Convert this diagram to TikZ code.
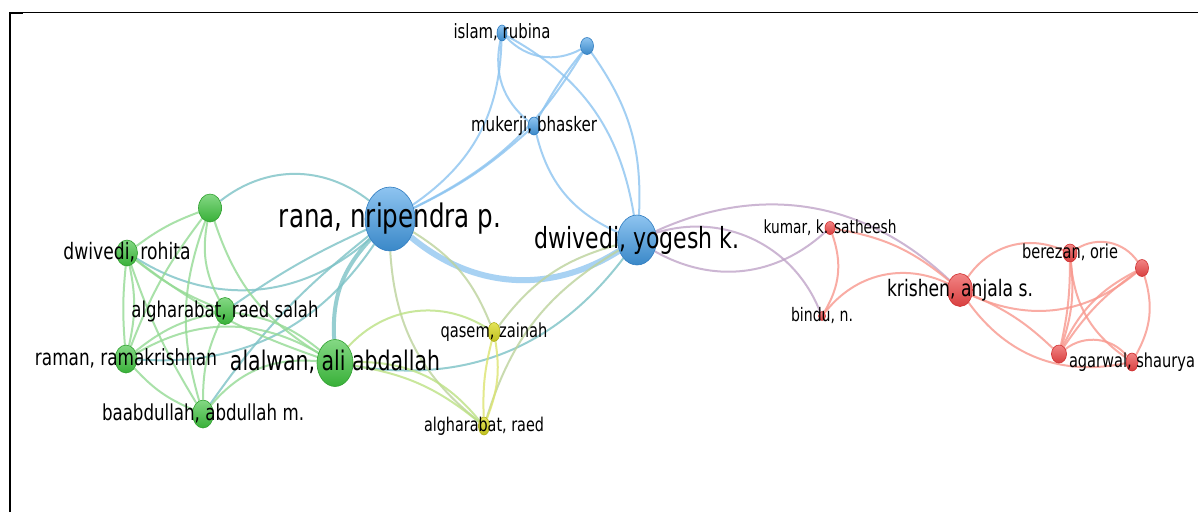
\documentclass[tikz,border=0pt]{standalone}
\usepackage{fontspec}
\setmainfont{DejaVu Sans}
\usetikzlibrary{shapes.geometric}
\definecolor{bT}{HTML}{8EC4F0}\definecolor{bB}{HTML}{3A88C8}\definecolor{bD}{HTML}{2F7CC0}
\definecolor{gT}{HTML}{84D884}\definecolor{gB}{HTML}{38B038}\definecolor{gD}{HTML}{2FA02F}
\definecolor{rT}{HTML}{F28484}\definecolor{rB}{HTML}{D84040}\definecolor{rD}{HTML}{D03030}
\definecolor{yT}{HTML}{E4E458}\definecolor{yB}{HTML}{C0C020}\definecolor{yD}{HTML}{B0B018}
\definecolor{ebl}{HTML}{8CC4F0}\definecolor{egr}{HTML}{94DA94}\definecolor{ere}{HTML}{F8988E}
\definecolor{eye}{HTML}{DCE470}\definecolor{ete}{HTML}{7CC2C6}\definecolor{epu}{HTML}{C0A4C8}
\definecolor{eby}{HTML}{BCD29C}\definecolor{egy}{HTML}{BCE284}
\newcommand\lbl[2]{\scalebox{1}[1.32]{\resizebox{#1pt}{!}{\vphantom{dp}#2}}}
\pgfdeclarelayer{bglayer}\pgfdeclarelayer{edgelayer}
\pgfsetlayers{bglayer,edgelayer,main}
\tikzset{
  vn/.style={ellipse, inner sep=0pt, line width=0.6pt},
  bn/.style={vn, draw=bD, top color=bT, bottom color=bB},
  gn/.style={vn, draw=gD, top color=gT, bottom color=gB},
  rn/.style={vn, draw=rD, top color=rT, bottom color=rB},
  yn/.style={vn, draw=yD, top color=yT, bottom color=yB},
  sz/.style 2 args={minimum width=#1pt, minimum height=#2pt},
  ed/.style={line width=2pt, opacity=0.8},
  eb/.style={ed, draw=ebl}, eg/.style={ed, draw=egr}, er/.style={ed, draw=ere},
  ey/.style={ed, draw=eye}, et/.style={ed, draw=ete}, ep/.style={ed, draw=epu},
  eby/.style={ed, draw=eby}, egy/.style={ed, draw=egy},
  lab/.style={inner sep=0pt, text=black}
}
\begin{document}
\begin{tikzpicture}[x=1pt,y=1pt]
\useasboundingbox (0,0) rectangle (1198,-512);
\begin{pgfonlayer}{bglayer}
\fill[white] (0,0) rectangle (1198,-512);
\end{pgfonlayer}
% frame
\draw[line width=1.2pt] (10,-12.3) -- (1198,-12.3);
\draw[line width=2pt] (10,-512) -- (10,-12);
\draw[line width=2pt] (10,-12.8) -- (23,-12.8);
% nodes
\node[bn, sz={50}{64}] (rana) at (390,-219) {};
\node[bn, sz={39}{50}] (yogesh) at (637,-240) {};
\node[bn, sz={10}{16}] (islam) at (502,-33) {};
\node[bn, sz={13}{17}] (topb) at (587,-46) {};
\node[bn, sz={12}{18}] (mukerji) at (534,-126) {};
\node[gn, sz={36}{47}] (alalwan) at (335,-363) {};
\node[gn, sz={23}{28}] (gone) at (210,-208) {};
\node[gn, sz={21}{26}] (rohita) at (127,-253) {};
\node[gn, sz={20}{27}] (salah) at (225,-311) {};
\node[gn, sz={22}{28}] (raman) at (126,-359) {};
\node[gn, sz={21}{28}] (baab) at (203,-414) {};
\node[yn, sz={12}{19}] (qasem) at (494,-332) {};
\node[yn, sz={11}{18}] (alghraed) at (484,-426) {};
\node[rn, sz={25}{33}] (krishen) at (960,-290) {};
\node[rn, sz={10}{13}] (kumar) at (830,-228) {};
\node[rn, sz={7}{9}] (bindu) at (822,-316) {};
\node[rn, sz={14}{18}] (berezan) at (1070,-253) {};
\node[rn, sz={13}{17}] (rone) at (1142,-268) {};
\node[rn, sz={15}{18}] (rtwo) at (1059,-354) {};
\node[rn, sz={12}{18}] (agarwal) at (1132,-362) {};
% edges
\begin{pgfonlayer}{edgelayer}
% blue
\draw[ed, draw=ebl, line width=6pt, opacity=0.75] (rana) to[bend right=36] (yogesh);
\draw[eb] (rana) to[bend right=27] (islam);
\draw[eb] (rana) to[bend right=8] (mukerji);
\draw[eb] (rana) to[bend right=16] (topb);
\draw[eb] (islam) to[bend right=31] (mukerji);
\draw[eb] (islam) to[bend right=37] (topb);
\draw[eb] (islam) to[bend left=26] (yogesh);
\draw[eb] (topb) to[bend left=19] (yogesh);
\draw[eb] (mukerji) to[bend right=26] (yogesh);
\draw[eb] (topb) to[bend right=5] (mukerji);
% blue-green
\draw[et] (yogesh) to[bend left=31] (alalwan);
\draw[et] (gone) to[bend left=38] (rana);
\draw[et] (rohita) to[bend right=37] (rana);
\draw[et] (raman) to[bend right=30] (rana);
\draw[et] (salah) to[bend left=5] (rana);
\draw[et] (baab) to[bend left=8] (rana);
\draw[et, line width=4pt] (alalwan) to[bend left=23] (rana);
% blue-yellow
\draw[eby] (rana) to[bend left=18] (qasem);
\draw[eby] (rana) to[bend right=24] (alghraed);
\draw[eby] (yogesh) to[bend right=21] (alghraed);
\draw[eby] (yogesh) to[bend right=19] (qasem);
% yellow
\draw[ey] (qasem) to[bend left=15] (alghraed);
\draw[ey] (qasem) to[bend right=8] (alghraed);
\draw[egy] (alalwan) to[bend left=40] (qasem);
\draw[egy] (alalwan) to[bend left=15] (alghraed);
\draw[egy] (alalwan) to[bend left=26] (alghraed);
% blue-red
\draw[ep] (yogesh) to[bend left=34] (krishen);
\draw[ep] (yogesh) to[bend right=36] (kumar);
\draw[ep] (yogesh) to[bend left=43] (bindu);
% red
\draw[er] (kumar) to[bend left=25] (bindu);
\draw[er] (kumar) to[bend left=15] (krishen);
\draw[er] (bindu) to[bend left=39] (krishen);
\draw[er] (krishen) to[bend left=40] (berezan);
\draw[er] (krishen) to[bend right=32] (rone);
\draw[er] (krishen) to[bend left=10] (rtwo);
\draw[er] (krishen) to[bend right=33] (agarwal);
\draw[er] (berezan) to[bend left=44] (rone);
\draw[er] (berezan) to[bend left=6] (rtwo);
\draw[er] (berezan) to[bend left=12] (rtwo);
\draw[er] (berezan) to[bend right=25] (agarwal);
\draw[er] (rone) to[bend right=10] (rtwo);
\draw[er] (rone) to[bend right=18] (rtwo);
\draw[er] (rone) to[bend left=23] (agarwal);
\draw[er] (rtwo) to[bend left=44] (agarwal);
% green
\draw[eg] (gone) to[bend right=8] (rohita);
\draw[eg] (gone) to[bend right=8] (raman);
\draw[eg] (gone) to[bend right=19] (salah);
\draw[eg] (gone) to[bend right=18] (baab);
\draw[eg] (gone) to[bend right=20] (alalwan);
\draw[eg] (rohita) to[bend right=8] (salah);
\draw[eg] (rohita) to[bend left=12] (raman);
\draw[eg] (rohita) to[bend right=5] (raman);
\draw[eg] (rohita) to[bend right=6] (baab);
\draw[eg] (rohita) to[bend right=9] (alalwan);
\draw[eg] (raman) to[bend left=13] (salah);
\draw[eg] (raman) to[bend right=12] (baab);
\draw[eg] (raman) to[bend left=30] (alalwan);
\draw[eg] (salah) to[bend right=12] (baab);
\draw[eg] (salah) to[bend left=15] (alalwan);
\draw[eg] (baab) to[bend left=27] (alalwan);
\end{pgfonlayer}
% labels
\node[lab] (ranaL) at (rana) {\lbl{222}{rana, nripendra p.}};
\node[lab] (yogeshL) at (yogesh) {\lbl{205}{dwivedi, yogesh k.}};
\node[lab] (alalwanL) at (alalwan) {\lbl{210}{alalwan, ali abdallah}};
\node[lab] (krishenL) at (krishen) {\lbl{146}{krishen, anjala s.}};
\node[lab] (islamL) at (islam) {\lbl{97}{islam, rubina}};
\node[lab] (mukerjiL) at (mukerji) {\lbl{126}{mukerji, bhasker}};
\node[lab] (kumarL) at (kumar) {\lbl{133}{kumar, k. satheesh}};
\node[lab] (binduL) at (bindu) {\lbl{62}{bindu, n.}};
\node[lab] (berezanL) at (berezan) {\lbl{96}{berezan, orie}};
\node[lab] (agarwalL) at (agarwal) {\lbl{126}{agarwal, shaurya}};
\node[lab] (rohitaL) at (rohita) {\lbl{127}{dwivedi, rohita}};
\node[lab] (salahL) at (salah) {\lbl{187}{algharabat, raed salah}};
\node[lab] (ramanL) at (raman) {\lbl{182}{raman, ramakrishnan}};
\node[lab] (baabL) at (baab) {\lbl{202}{baabdullah, abdullah m.}};
\node[lab] (qasemL) at (qasem) {\lbl{107}{qasem, zainah}};
\node[lab] (alghraedL) at (alghraed) {\lbl{120}{algharabat, raed}};
\end{tikzpicture}
\end{document}
